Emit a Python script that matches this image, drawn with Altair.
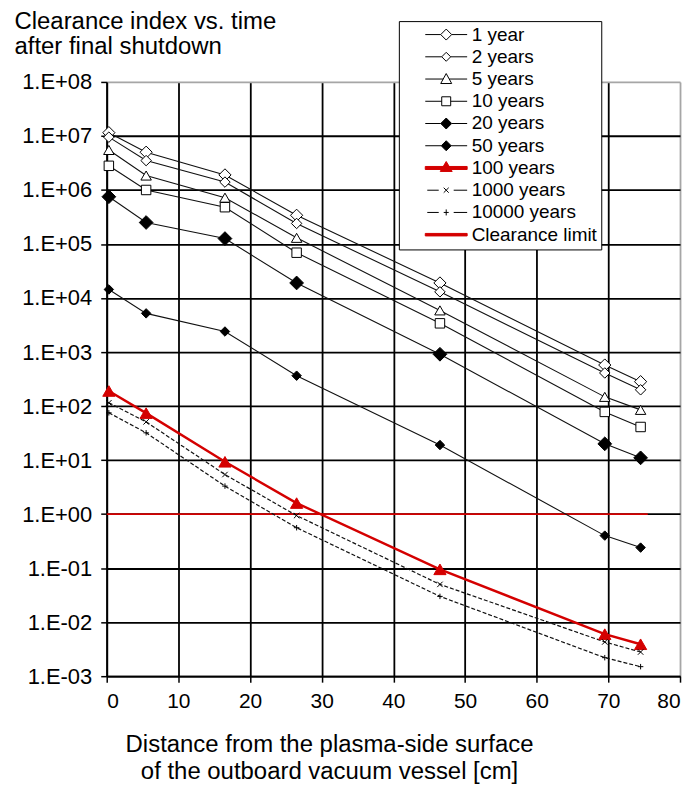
import altair as alt
import pandas as pd

# ---------------- data ----------------
distance = [0.3, 5.5, 16.5, 26.5, 46.5, 69.5, 74.5]
series_names = ["1 year", "2 years", "5 years", "10 years", "20 years",
                "50 years", "100 years", "1000 years", "10000 years"]
y_1yr = [1.15e7, 5.0e6, 1.9e6, 3.4e5, 1.9e4, 575, 283]
y_2yr = [9.5e6, 3.5e6, 1.4e6, 2.4e5, 1.3e4, 410, 200]
y_5yr = [5.5e6, 1.85e6, 7.2e5, 1.3e5, 5.9e3, 148, 85]
y_10yr = [2.8e6, 1.0e6, 4.8e5, 6.9e4, 3.4e3, 78, 41]
y_20yr = [7.5e5, 2.5e5, 1.26e5, 1.9e4, 910, 20, 11]
y_50yr = [1.44e4, 5.2e3, 2.4e3, 365, 19, 0.40, 0.24]
y_100yr = [190, 74, 9.3, 1.6, 0.095, 0.006, 0.0039]
y_1000yr = [115, 51, 5.4, 0.94, 0.05, 0.0043, 0.0028]
y_10000yr = [75, 32, 3.3, 0.56, 0.03, 0.0022, 0.0015]
series_values = [y_1yr, y_2yr, y_5yr, y_10yr, y_20yr, y_50yr,
                 y_100yr, y_1000yr, y_10000yr]
clearance_name = "Clearance limit"
clearance_x = [0, 75.5]
clearance_y = [1, 1]
x_ticks = [0, 10, 20, 30, 40, 50, 60, 70, 80]
y_ticks = [1e-3, 1e-2, 1e-1, 1e0, 1e1, 1e2, 1e3, 1e4, 1e5, 1e6, 1e7, 1e8]

rows = []
for name, vals in zip(series_names, series_values):
    for d, v in zip(distance, vals):
        rows.append({"series": name, "distance": d, "value": v})
for d, v in zip(clearance_x, clearance_y):
    rows.append({"series": clearance_name, "distance": d, "value": v})
df = pd.DataFrame(rows)

# ---------------- styles ----------------
FONT = "Liberation Sans"
RED = "#d40000"
INK = "#111111"

line_style = {
    "1 year": dict(color=INK, strokeWidth=1.1),
    "2 years": dict(color=INK, strokeWidth=1.1),
    "5 years": dict(color=INK, strokeWidth=1.1),
    "10 years": dict(color=INK, strokeWidth=1.1),
    "20 years": dict(color=INK, strokeWidth=1.1),
    "50 years": dict(color=INK, strokeWidth=1.1),
    "100 years": dict(color=RED, strokeWidth=2.4),
    "1000 years": dict(color=INK, strokeWidth=1.2, strokeDash=[4, 2]),
    "10000 years": dict(color=INK, strokeWidth=1.2, strokeDash=[4, 2]),
    clearance_name: dict(color=RED, strokeWidth=1.6),
}
X_PATH = "M-1,-1L1,1M-1,1L1,-1"
PLUS_PATH = "M-1,0L1,0M0,-1L0,1"
point_style = {
    "1 year": dict(shape="diamond", size=150, fill="white", stroke="black"),
    "2 years": dict(shape="diamond", size=110, fill="white", stroke="black"),
    "5 years": dict(shape="triangle-up", size=110, fill="white", stroke="black"),
    "10 years": dict(shape="square", size=90, fill="white", stroke="black"),
    "20 years": dict(shape="diamond", size=190, fill="black", stroke="black"),
    "50 years": dict(shape="diamond", size=90, fill="black", stroke="black"),
    "100 years": dict(shape="triangle-up", size=150, fill=RED, stroke=RED),
    "1000 years": dict(shape=X_PATH, size=30, fill="transparent", stroke="black"),
    "10000 years": dict(shape=PLUS_PATH, size=30, fill="transparent", stroke="black"),
}

# legend symbols: line stub + marker (units of 5 px for symbolSize 100)
legend_names = series_names + [clearance_name]
legend_paths = [
    "M-4.2,0L-1.1,0M-1.1,0L0,-1.1L1.1,0L0,1.1ZM1.1,0L4.2,0",
    "M-4.2,0L-0.9,0M-0.9,0L0,-0.9L0.9,0L0,0.9ZM0.9,0L4.2,0",
    "M-4.2,0L-0.6,0M-1.1,0.9L0,-1.1L1.1,0.9ZM0.6,0L4.2,0",
    "M-4.2,0L-0.9,0M-0.9,-0.9L0.9,-0.9L0.9,0.9L-0.9,0.9ZM0.9,0L4.2,0",
    "M-4.2,0L-1.1,0M-1.1,0L0,-1.1L1.1,0L0,1.1ZM1.1,0L4.2,0",
    "M-4.2,0L-1.0,0M-1.0,0L0,-1.0L1.0,0L0,1.0ZM1.0,0L4.2,0",
    "M-4.2,-0.3L4.2,-0.3L4.2,0.3L-4.2,0.3ZM-1.2,0.7L0,-1.3L1.2,0.7Z",
    "M-3.8,0L-1.5,0M-0.5,-0.5L0.5,0.5M-0.5,0.5L0.5,-0.5M1.5,0L4.2,0",
    "M-3.8,0L-1.5,0M-0.5,0L0.5,0M0,-0.6L0,0.6M1.5,0L4.2,0",
    "M-4.2,-0.25L4.2,-0.25L4.2,0.25L-4.2,0.25Z",
]
legend_fills = ["white", "white", "white", "white", "black", "black",
                RED, "transparent", "transparent", RED]
legend_strokes = ["black", "black", "black", "black", "black", "black",
                  RED, "black", "black", RED]

# ---------------- encodings ----------------
X = alt.X(
    "distance:Q",
    scale=alt.Scale(domain=[0, 80], nice=False, zero=False),
    axis=alt.Axis(
        values=x_ticks, format="d",
        title=["Distance from the plasma-side surface",
               "of the outboard vacuum vessel [cm]"],
        titleFont=FONT, titleFontSize=24, titleFontWeight="normal",
        titleColor="black", titleLineHeight=27, titleAnchor="start",
        titleAlign="center", titleBaseline="top", titleX=223, titleY=57,
        labelFont=FONT, labelFontSize=21, labelColor="black", labelPadding=8,
        tickSize=6, tickColor="black", tickWidth=1.5,
        domainColor="black", domainWidth=1.8,
        grid=True, gridWidth=1.8,
        gridColor={"condition": {"test": "datum.value >= 80", "value": "#a6a6a6"},
                   "value": "black"},
    ),
)
Y = alt.Y(
    "value:Q",
    scale=alt.Scale(type="log", domain=[1e-3, 1e8], nice=False),
    axis=alt.Axis(
        values=y_ticks,
        labelExpr="'1.E' + (round(log(datum.value)/LN10) >= 0 ? '+' : '-') + "
                  "format(abs(round(log(datum.value)/LN10)), '02d')",
        title=["Clearance index vs. time", "after final shutdown"],
        titleFont=FONT, titleFontSize=24, titleFontWeight="normal",
        titleColor="black", titleLineHeight=25, titleAngle=0,
        titleAlign="left", titleBaseline="top", titleX=-93, titleY=-73,
        labelFont=FONT, labelFontSize=22, labelColor="black", labelPadding=9,
        tickSize=6, tickColor="black", tickWidth=1.5,
        domainColor="black", domainWidth=1.8,
        grid=True, gridWidth=1.8,
        gridColor={"condition": {"test": "datum.value > 5e7", "value": "#a6a6a6"},
                   "value": "black"},
    ),
)

base = alt.Chart(df)
layers = []
for name in [clearance_name] + series_names:
    st = line_style[name]
    layers.append(
        base.transform_filter(alt.datum.series == name)
        .mark_line(**st)
        .encode(x=X, y=Y)
    )
for name in series_names:
    st = point_style[name]
    layers.append(
        base.transform_filter(alt.datum.series == name)
        .mark_point(filled=True, opacity=1, strokeWidth=1, **st)
        .encode(x=X, y=Y)
    )

legend = alt.Legend(
    title=None, orient="none", legendX=293, legendY=-61,
    padding=4, strokeColor="black", fillColor="white",
    symbolSize=100, symbolStrokeWidth=1, symbolOffset=34, symbolOpacity=1,
    labelOffset=16, labelFont=FONT, labelFontSize=19, labelColor="black",
    labelLimit=400, rowPadding=2.3,
)
legend_layer = base.mark_point(filled=True, opacity=0).encode(
    x=X, y=Y,
    shape=alt.Shape("series:N", scale=alt.Scale(domain=legend_names, range=legend_paths), legend=legend),
    fill=alt.Fill("series:N", scale=alt.Scale(domain=legend_names, range=legend_fills), legend=legend),
    stroke=alt.Stroke("series:N", scale=alt.Scale(domain=legend_names, range=legend_strokes), legend=legend),
)
layers.append(legend_layer)

chart = (
    alt.layer(*layers)
    .properties(
        width=575, height=596,
        autosize=alt.AutoSizeParams(type="none"),
        padding={"left": 99, "top": 73, "right": 8, "bottom": 110},
    )
    .configure_view(stroke="#a6a6a6", strokeWidth=1.5)
    .configure(background="white")
)

chart.save("out.html", embed_options={"renderer": "svg", "actions": False})
